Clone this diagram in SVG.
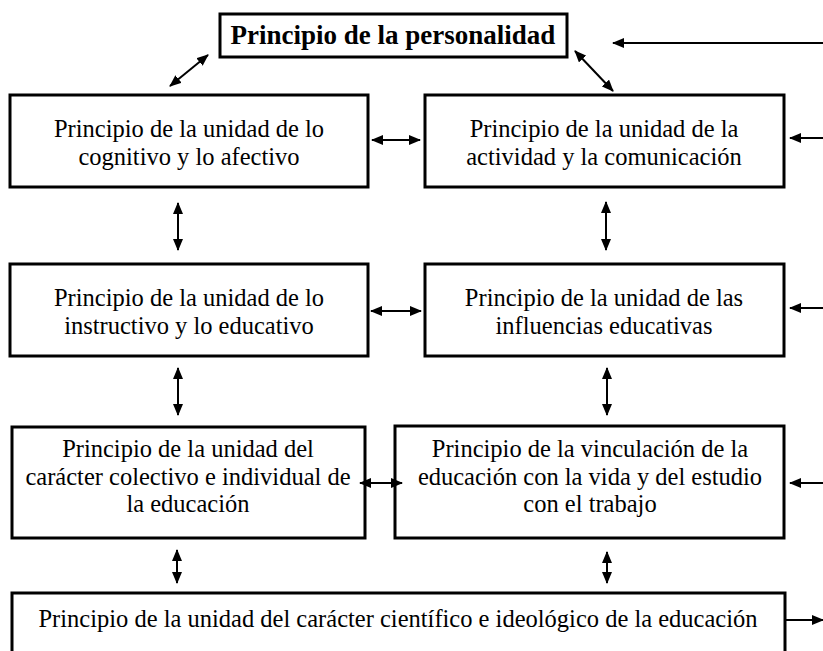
<svg xmlns="http://www.w3.org/2000/svg" width="823" height="651" viewBox="0 0 823 651">
<defs>
<marker id="ah" viewBox="0 0 12 10" refX="11" refY="5" markerWidth="12" markerHeight="10" markerUnits="userSpaceOnUse" orient="auto-start-reverse">
<path d="M0,0 L12,5 L0,10 Z" fill="#000"/>
</marker>
<style>
.box{fill:#fff;stroke:#000;stroke-width:3}
.t{font-family:"Liberation Serif","Times New Roman",serif;font-size:24.5px;fill:#000;text-anchor:middle}
.tb{font-family:"Liberation Serif","Times New Roman",serif;font-size:27px;font-weight:bold;fill:#000;text-anchor:middle}
.c{stroke:#000;stroke-width:2;fill:none}
</style>
</defs>
<rect width="823" height="651" fill="#fff"/>

<g id="n0">
<rect class="box" x="220" y="14" width="347" height="43"/>
<text class="tb" x="393" y="44">Principio de la personalidad</text>
</g>
<g id="n1">
<rect class="box" x="10" y="95" width="358" height="92"/>
<text class="t" x="189" y="137">Principio de la unidad de lo</text>
<text class="t" x="189" y="165">cognitivo y lo afectivo</text>
</g>
<g id="n2">
<rect class="box" x="425" y="95" width="359" height="92"/>
<text class="t" x="604" y="137">Principio de la unidad de la</text>
<text class="t" x="604" y="165">actividad y la comunicación</text>
</g>
<g id="n3">
<rect class="box" x="10" y="264" width="358" height="92"/>
<text class="t" x="189" y="306">Principio de la unidad de lo</text>
<text class="t" x="189" y="334">instructivo y lo educativo</text>
</g>
<g id="n4">
<rect class="box" x="425" y="264" width="359" height="92"/>
<text class="t" x="604" y="306">Principio de la unidad de las</text>
<text class="t" x="604" y="334">influencias educativas</text>
</g>
<g id="n5">
<rect class="box" x="12" y="427" width="353" height="111"/>
<text class="t" x="188" y="457">Principio de la unidad del</text>
<text class="t" x="188" y="485">carácter colectivo e individual de</text>
<text class="t" x="188" y="512">la educación</text>
</g>
<g id="n6">
<rect class="box" x="395" y="426" width="389" height="112"/>
<text class="t" x="590" y="457">Principio de la vinculación de la</text>
<text class="t" x="590" y="485">educación con la vida y del estudio</text>
<text class="t" x="590" y="512">con el trabajo</text>
</g>
<g id="n7">
<rect class="box" x="12" y="593" width="773" height="80"/>
<text class="t" x="398" y="627">Principio de la unidad del carácter científico e ideológico de la educación</text>
</g>

<g id="connectors">
<line class="c" x1="170" y1="86" x2="208" y2="55" marker-start="url(#ah)" marker-end="url(#ah)"/>
<line class="c" x1="575" y1="51" x2="613" y2="91" marker-start="url(#ah)" marker-end="url(#ah)"/>
<line class="c" x1="823" y1="43" x2="613" y2="43" marker-end="url(#ah)"/>
<line class="c" x1="372" y1="140" x2="420" y2="140" marker-start="url(#ah)" marker-end="url(#ah)"/>
<line class="c" x1="823" y1="138" x2="790" y2="138" marker-end="url(#ah)"/>
<line class="c" x1="178" y1="203" x2="178" y2="250" marker-start="url(#ah)" marker-end="url(#ah)"/>
<line class="c" x1="606" y1="202" x2="606" y2="250" marker-start="url(#ah)" marker-end="url(#ah)"/>
<line class="c" x1="371" y1="311" x2="421" y2="311" marker-start="url(#ah)" marker-end="url(#ah)"/>
<line class="c" x1="823" y1="308" x2="790" y2="308" marker-end="url(#ah)"/>
<line class="c" x1="178" y1="368" x2="178" y2="415" marker-start="url(#ah)" marker-end="url(#ah)"/>
<line class="c" x1="607" y1="368" x2="607" y2="415" marker-start="url(#ah)" marker-end="url(#ah)"/>
<line class="c" x1="360" y1="483" x2="402" y2="483" marker-start="url(#ah)" marker-end="url(#ah)"/>
<line class="c" x1="823" y1="483" x2="790" y2="483" marker-end="url(#ah)"/>
<line class="c" x1="177" y1="550" x2="177" y2="583" marker-start="url(#ah)" marker-end="url(#ah)"/>
<line class="c" x1="607" y1="552" x2="607" y2="583" marker-start="url(#ah)" marker-end="url(#ah)"/>
<line class="c" x1="785" y1="620" x2="823" y2="620" marker-end="url(#ah)"/>
</g>
</svg>
